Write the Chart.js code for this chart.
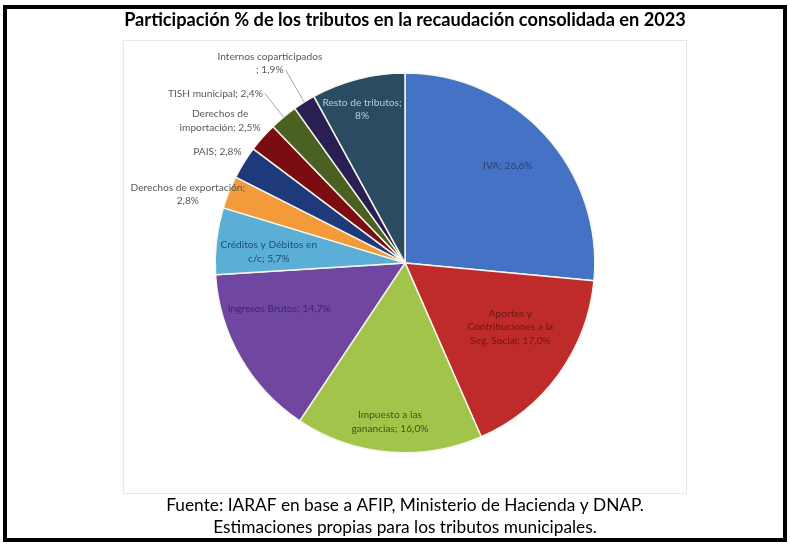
<!DOCTYPE html>
<html>
<head>
<meta charset="utf-8">
<script src="https://cdn.jsdelivr.net/npm/chart.js@4.4.0/dist/chart.umd.min.js"></script>
<style>
  html, body { margin: 0; padding: 0; background: #fff; }
  body { width: 790px; height: 545px; position: relative; overflow: hidden; }
  #frame { position: absolute; left: 3px; top: 5px; width: 784px; height: 537px; box-sizing: border-box; border: 4px solid #000; }
  #plotBox { position: absolute; left: 123px; top: 40px; width: 564px; height: 454px; box-sizing: border-box; border: 1px solid #e8e8e8; }
  #chart { position: absolute; left: 0; top: 0; }
</style>
</head>
<body>
<div id="frame"></div>
<div id="plotBox"></div>
<canvas id="chart" width="790" height="545"></canvas>
<script>
// Data
const categories = [
  'IVA',
  'Aportes y Contribuciones a la Seg. Social',
  'Impuesto a las ganancias',
  'Ingresos Brutos',
  'Créditos y Débitos en c/c',
  'Derechos de exportación',
  'PAIS',
  'Derechos de importación',
  'TISH municipal',
  'Internos coparticipados',
  'Resto de tributos'
];
const values = [26.6, 17.0, 16.0, 14.7, 5.7, 2.8, 2.8, 2.5, 2.4, 1.9, 8];
const valueLabels = ['26,6%', '17,0%', '16,0%', '14,7%', '5,7%', '2,8%', '2,8%', '2,5%', '2,4%', '1,9%', '8%'];

// Label wrapping ({v} = value label)
const labelWrap = [
  ['IVA; {v}'],
  ['Aportes y', 'Contribuciones a la', 'Seg. Social; {v}'],
  ['Impuesto a las', 'ganancias; {v}'],
  ['Ingresos Brutos; {v}'],
  ['Créditos y Débitos en', 'c/c; {v}'],
  ['Derechos de exportación;', '{v}'],
  ['PAIS; {v}'],
  ['Derechos de', 'importación; {v}'],
  ['TISH municipal; {v}'],
  ['Internos coparticipados', '; {v}'],
  ['Resto de tributos;', '{v}']
];

// Styling
const sliceColors = ['#4472C4', '#BE2B2A', '#A2C44A', '#6F47A0', '#5BAFD7', '#F39A3B',
                     '#1E3A7B', '#7A0C12', '#4B6122', '#2A1F52', '#2B4C60'];
// r = fraction of radius, da = angle shift in degrees from slice middle
const labelLayout = [
  { r: 0.745, da: -1,   color: '#2B3F6E' },
  { r: 0.65,  da: -4.5, color: '#6E1616' },
  { r: 0.84,  da: 0.4,  color: '#3A5A17' },
  { r: 0.705, da: 10,   color: '#3B2667' },
  { r: 0.72,  da: -2,   color: '#1F4E79' },
  { r: 1.2,   da: -4.3, color: '#595959' },
  { r: 1.148, da: -1.3, color: '#595959' },
  { r: 1.228, da: -3.9, color: '#595959' },
  { r: 1.34,  da: -8.4, color: '#595959', leader: true },
  { r: 1.27,  da: -2,   color: '#595959', leader: true },
  { r: 0.84,  da: -1.3, color: '#A9CFE8' }
];

const sliceLabels = {
  id: 'sliceLabels',
  afterDatasetsDraw(chart) {
    const ctx = chart.ctx;
    const meta = chart.getDatasetMeta(0);
    const lh = 13.5;
    ctx.save();
    ctx.font = '10.2px Lato';
    ctx.textAlign = 'center';
    ctx.textBaseline = 'middle';
    meta.data.forEach((arc, i) => {
      const p = arc.getProps(['x', 'y', 'startAngle', 'endAngle', 'outerRadius'], true);
      const lay = labelLayout[i];
      const mid = (p.startAngle + p.endAngle) / 2;
      const a = mid + lay.da * Math.PI / 180;
      const cx = p.x + Math.cos(a) * p.outerRadius * lay.r;
      const cy = p.y + Math.sin(a) * p.outerRadius * lay.r;
      const lines = labelWrap[i].map(t => t.replace('{v}', valueLabels[i]));
      const y0 = cy - (lines.length - 1) * lh / 2;
      ctx.fillStyle = lay.color;
      lines.forEach((t, k) => ctx.fillText(t, cx, y0 + k * lh));
      if (lay.leader) {
        const last = lines[lines.length - 1];
        const w = ctx.measureText(last).width;
        const sx = cx + w / 2 + 2;
        const sy = y0 + (lines.length - 1) * lh;
        const ex = p.x + Math.cos(mid) * p.outerRadius;
        const ey = p.y + Math.sin(mid) * p.outerRadius;
        ctx.strokeStyle = '#A6A6A6';
        ctx.lineWidth = 1;
        ctx.beginPath();
        ctx.moveTo(sx, sy);
        ctx.lineTo(ex, ey);
        ctx.stroke();
      }
    });
    ctx.restore();
  }
};

new Chart(document.getElementById('chart').getContext('2d'), {
  type: 'pie',
  data: {
    labels: categories,
    datasets: [{
      data: values,
      backgroundColor: sliceColors,
      borderColor: '#F6F6EA',
      borderWidth: 1.5
    }]
  },
  options: {
    responsive: false,
    animation: false,
    layout: { padding: { left: 20, right: 0 } },
    plugins: {
      legend: { display: false },
      tooltip: { enabled: false },
      title: {
        display: true,
        text: 'Participación % de los tributos en la recaudación consolidada en 2023',
        color: '#000',
        font: { family: 'Lato', size: 18.2, weight: 'bold', lineHeight: 1.2 },
        padding: { top: 9, bottom: 41.5 }
      },
      subtitle: {
        display: true,
        position: 'bottom',
        text: ['Fuente: IARAF en base a AFIP, Ministerio de Hacienda y DNAP.',
               'Estimaciones propias para los tributos municipales.'],
        color: '#000',
        font: { family: 'Lato', size: 17.3, lineHeight: 1.27 },
        padding: { top: 40.6, bottom: 7 }
      }
    }
  },
  plugins: [sliceLabels]
});
</script>
</body>
</html>
